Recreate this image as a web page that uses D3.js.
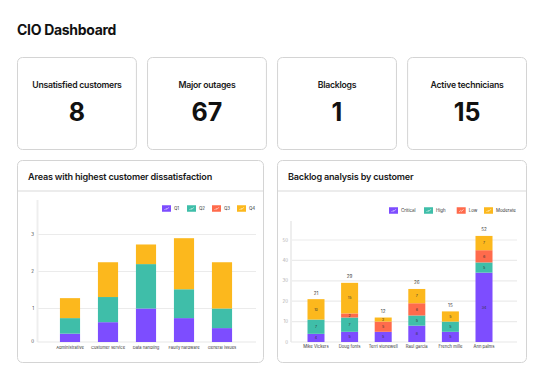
<!DOCTYPE html>
<html>
<head>
<meta charset="utf-8">
<script src="https://cdn.jsdelivr.net/npm/d3@7"></script>
<style>
  html, body { margin: 0; padding: 0; background: #fff; }
  svg { display: block; font-family: Inter, "Noto Sans", sans-serif; }
</style>
</head>
<body>
<div id="chart"></div>
<script>
// KPI tiles
const kpiLabels = ['Unsatisfied customers', 'Major outages', 'Blacklogs', 'Active technicians'];
const kpiValues = [8, 67, 1, 15];

// Areas with highest customer dissatisfaction
const areaCategories = ['Administrative', 'Customer service', 'Data handling', 'Faulty hardware', 'General issues'];
const quarterKeys = ['Q1', 'Q2', 'Q3', 'Q4'];
const q1Values = [0.32, 0.63, 1.0, 0.74, 0.47];
const q2Values = [0.42, 0.68, 1.2, 0.78, 0.53];
const q3Values = [0, 0, 0, 0, 0];
const q4Values = [0.54, 0.94, 0.53, 1.38, 1.25];
const areaTicks = [0, 1, 2, 3];

// Backlog analysis by customer
const customers = ['Mike Vickers', 'Doug fonts', 'Terri stonewell', 'Raul garcia', 'French mille', 'Ann palms'];
const priorityKeys = ['Critical', 'High', 'Low', 'Moderate'];
const criticalValues = [4, 5, 5, 8, 5, 34];
const highValues = [7, 7, 0, 5, 5, 5];
const lowValues = [0, 2, 5, 6, 0, 6];
const moderateValues = [10, 15, 2, 7, 5, 7];
const backlogTicks = [0, 10, 20, 30, 40, 50];

const colors = ['#7d4dff', '#3fbea9', '#ff6b4c', '#fcb81d'];

const width = 543, height = 384;
const svg = d3.select('#chart').append('svg')
  .attr('width', width)
  .attr('height', height);

svg.append('rect').attr('width', width).attr('height', height).attr('fill', '#fff');

svg.append('text')
  .attr('x', 17).attr('y', 35)
  .attr('font-size', 14).attr('font-weight', 700).attr('fill', '#111')
  .attr('letter-spacing', -0.3)
  .text('CIO Dashboard');

// --- KPI cards ---
const cardX = d3.scaleBand().domain(d3.range(kpiLabels.length)).range([17, 527]).paddingInner(0.078);
const cards = svg.append('g').selectAll('g')
  .data(kpiLabels)
  .join('g')
  .attr('transform', (d, i) => `translate(${cardX(i)},57)`);

cards.append('rect')
  .attr('x', 0.5).attr('y', 0.5)
  .attr('width', cardX.bandwidth() - 1).attr('height', 92)
  .attr('rx', 5)
  .attr('fill', '#fff').attr('stroke', '#d4d4d4');

cards.append('text')
  .attr('x', cardX.bandwidth() / 2).attr('y', 31)
  .attr('text-anchor', 'middle')
  .attr('font-size', 8.7).attr('font-weight', 600).attr('fill', '#1a1a1a')
  .attr('letter-spacing', -0.25)
  .text(d => d);

cards.append('text')
  .attr('x', cardX.bandwidth() / 2).attr('y', 63.5)
  .attr('text-anchor', 'middle')
  .attr('font-size', 25).attr('font-weight', 700).attr('fill', '#111')
  .text((d, i) => kpiValues[i]);

// --- panel helper ---
function panel(x, w, title) {
  const g = svg.append('g').attr('transform', `translate(${x},160)`);
  g.append('rect')
    .attr('x', 0.5).attr('y', 0.5).attr('width', w - 1).attr('height', 202)
    .attr('rx', 5).attr('fill', '#fff').attr('stroke', '#d4d4d4');
  g.append('line')
    .attr('x1', 1).attr('x2', w - 1).attr('y1', 31).attr('y2', 31)
    .attr('stroke', '#e6e6e6').attr('stroke-width', 1.5);
  g.append('text')
    .attr('x', 11).attr('y', 20)
    .attr('font-size', 9.1).attr('font-weight', 600).attr('fill', '#1a1a1a')
    .attr('letter-spacing', -0.2)
    .text(title);
}

function legend(keys, x0, step, y) {
  const lg = svg.append('g').selectAll('g')
    .data(keys)
    .join('g')
    .attr('transform', (d, i) => `translate(${x0[i] !== undefined ? x0[i] : x0 + i * step},${y})`);
  lg.append('rect')
    .attr('width', 9).attr('height', 6.5).attr('y', -3.25)
    .attr('fill', (d, i) => colors[i]);
  lg.append('path')
    .attr('d', 'M2.5,1.5L4,0L5,0.8L6.8,-1.2')
    .attr('fill', 'none').attr('stroke', '#fff').attr('stroke-width', 0.6);
  lg.append('text')
    .attr('x', 12).attr('dy', '0.35em')
    .attr('font-size', 4.4).attr('fill', '#333')
    .text(d => d);
}

// --- left chart ---
panel(17, 247, 'Areas with highest customer dissatisfaction');

const areaRows = areaCategories.map((c, i) => ({
  category: c, Q1: q1Values[i], Q2: q2Values[i], Q3: q3Values[i], Q4: q4Values[i]
}));
const areaStack = d3.stack().keys(quarterKeys)(areaRows);

const xA = d3.scaleBand().domain(areaCategories).range([51, 241]).paddingInner(0.47).paddingOuter(0.235);
const yA = d3.scaleLinear().domain([0, 4]).range([345.5, 197.5]);
const baseA = 342;

svg.append('clipPath').attr('id', 'clipA')
  .append('rect').attr('x', 30).attr('y', 190).attr('width', 240).attr('height', baseA - 190);

svg.append('g').selectAll('line')
  .data(areaTicks.filter(t => t > 0))
  .join('line')
  .attr('x1', 37.5).attr('x2', 256)
  .attr('y1', d => yA(d)).attr('y2', d => yA(d))
  .attr('stroke', '#ebebeb').attr('stroke-width', 1.2);

svg.append('line').attr('x1', 37.5).attr('x2', 37.5).attr('y1', 200).attr('y2', baseA)
  .attr('stroke', '#eeeeee').attr('stroke-width', 2);
svg.append('line').attr('x1', 37.5).attr('x2', 256).attr('y1', baseA).attr('y2', baseA)
  .attr('stroke', '#e8e8e8').attr('stroke-width', 1.2);

svg.append('g').attr('clip-path', 'url(#clipA)')
  .selectAll('g')
  .data(areaStack)
  .join('g')
  .attr('fill', (d, i) => colors[i])
  .selectAll('rect')
  .data(d => d)
  .join('rect')
  .attr('x', d => xA(d.data.category))
  .attr('width', xA.bandwidth())
  .attr('y', d => yA(d[1]))
  .attr('height', d => yA(d[0]) - yA(d[1]));

svg.append('g').selectAll('text')
  .data(areaTicks)
  .join('text')
  .attr('x', 34).attr('y', d => d === 0 ? baseA - 1 : yA(d))
  .attr('dy', '0.35em').attr('text-anchor', 'end')
  .attr('font-size', 4.4).attr('fill', '#444')
  .text(d => d);

svg.append('g').selectAll('text')
  .data(areaCategories)
  .join('text')
  .attr('x', d => xA(d) + xA.bandwidth() / 2).attr('y', 348)
  .attr('dy', '0.35em').attr('text-anchor', 'middle')
  .attr('font-size', 4.1).attr('fill', '#333')
  .text(d => d);

legend(quarterKeys, 162, 25, 208.5);

// --- right chart ---
panel(277, 250, 'Backlog analysis by customer');

const backlogRows = customers.map((c, i) => ({
  customer: c, Critical: criticalValues[i], High: highValues[i], Low: lowValues[i], Moderate: moderateValues[i]
}));
const backlogStack = d3.stack().keys(priorityKeys)(backlogRows);

const xB = d3.scaleBand().domain(customers).range([299.2, 500.8]).paddingInner(0.494).paddingOuter(0.247);
const yB = d3.scaleLinear().domain([0, 60]).range([342, 219.6]);

svg.append('g').selectAll('line')
  .data(backlogTicks.filter(t => t > 0))
  .join('line')
  .attr('x1', 291).attr('x2', 517)
  .attr('y1', d => yB(d)).attr('y2', d => yB(d))
  .attr('stroke', '#ebebeb').attr('stroke-width', 1.2);

svg.append('line').attr('x1', 291).attr('x2', 291).attr('y1', 221).attr('y2', yB(0))
  .attr('stroke', '#eeeeee').attr('stroke-width', 2);
svg.append('line').attr('x1', 291).attr('x2', 517).attr('y1', yB(0)).attr('y2', yB(0))
  .attr('stroke', '#e8e8e8').attr('stroke-width', 1.2);

const seg = svg.append('g').selectAll('g')
  .data(backlogStack)
  .join('g')
  .attr('fill', (d, i) => colors[i]);

seg.selectAll('rect')
  .data(d => d)
  .join('rect')
  .attr('x', d => xB(d.data.customer))
  .attr('width', xB.bandwidth())
  .attr('y', d => yB(d[1]))
  .attr('height', d => yB(d[0]) - yB(d[1]));

seg.selectAll('text')
  .data(d => d.filter(p => p[1] - p[0] > 0))
  .join('text')
  .attr('x', d => xB(d.data.customer) + xB.bandwidth() / 2)
  .attr('y', d => yB((d[0] + d[1]) / 2))
  .attr('dy', '0.35em').attr('text-anchor', 'middle')
  .attr('font-size', 3.6).attr('fill', '#333')
  .text(d => d[1] - d[0]);

svg.append('g').selectAll('text')
  .data(backlogRows)
  .join('text')
  .attr('x', d => xB(d.customer) + xB.bandwidth() / 2)
  .attr('y', d => yB(d3.sum(priorityKeys, k => d[k])) - 4.5)
  .attr('text-anchor', 'middle')
  .attr('font-size', 4.6).attr('fill', '#444')
  .text(d => d3.sum(priorityKeys, k => d[k]));

svg.append('g').selectAll('text')
  .data(backlogTicks)
  .join('text')
  .attr('x', 288).attr('y', d => yB(d))
  .attr('dy', '0.35em').attr('text-anchor', 'end')
  .attr('font-size', 4.4).attr('fill', '#aaa')
  .text(d => d);

svg.append('g').selectAll('text')
  .data(customers)
  .join('text')
  .attr('x', d => xB(d) + xB.bandwidth() / 2).attr('y', 346.5)
  .attr('dy', '0.35em').attr('text-anchor', 'middle')
  .attr('font-size', 4.2).attr('fill', '#333')
  .text(d => d);

legend(priorityKeys, [389, 424, 456.7, 484], 0, 210.5);
</script>
</body>
</html>
